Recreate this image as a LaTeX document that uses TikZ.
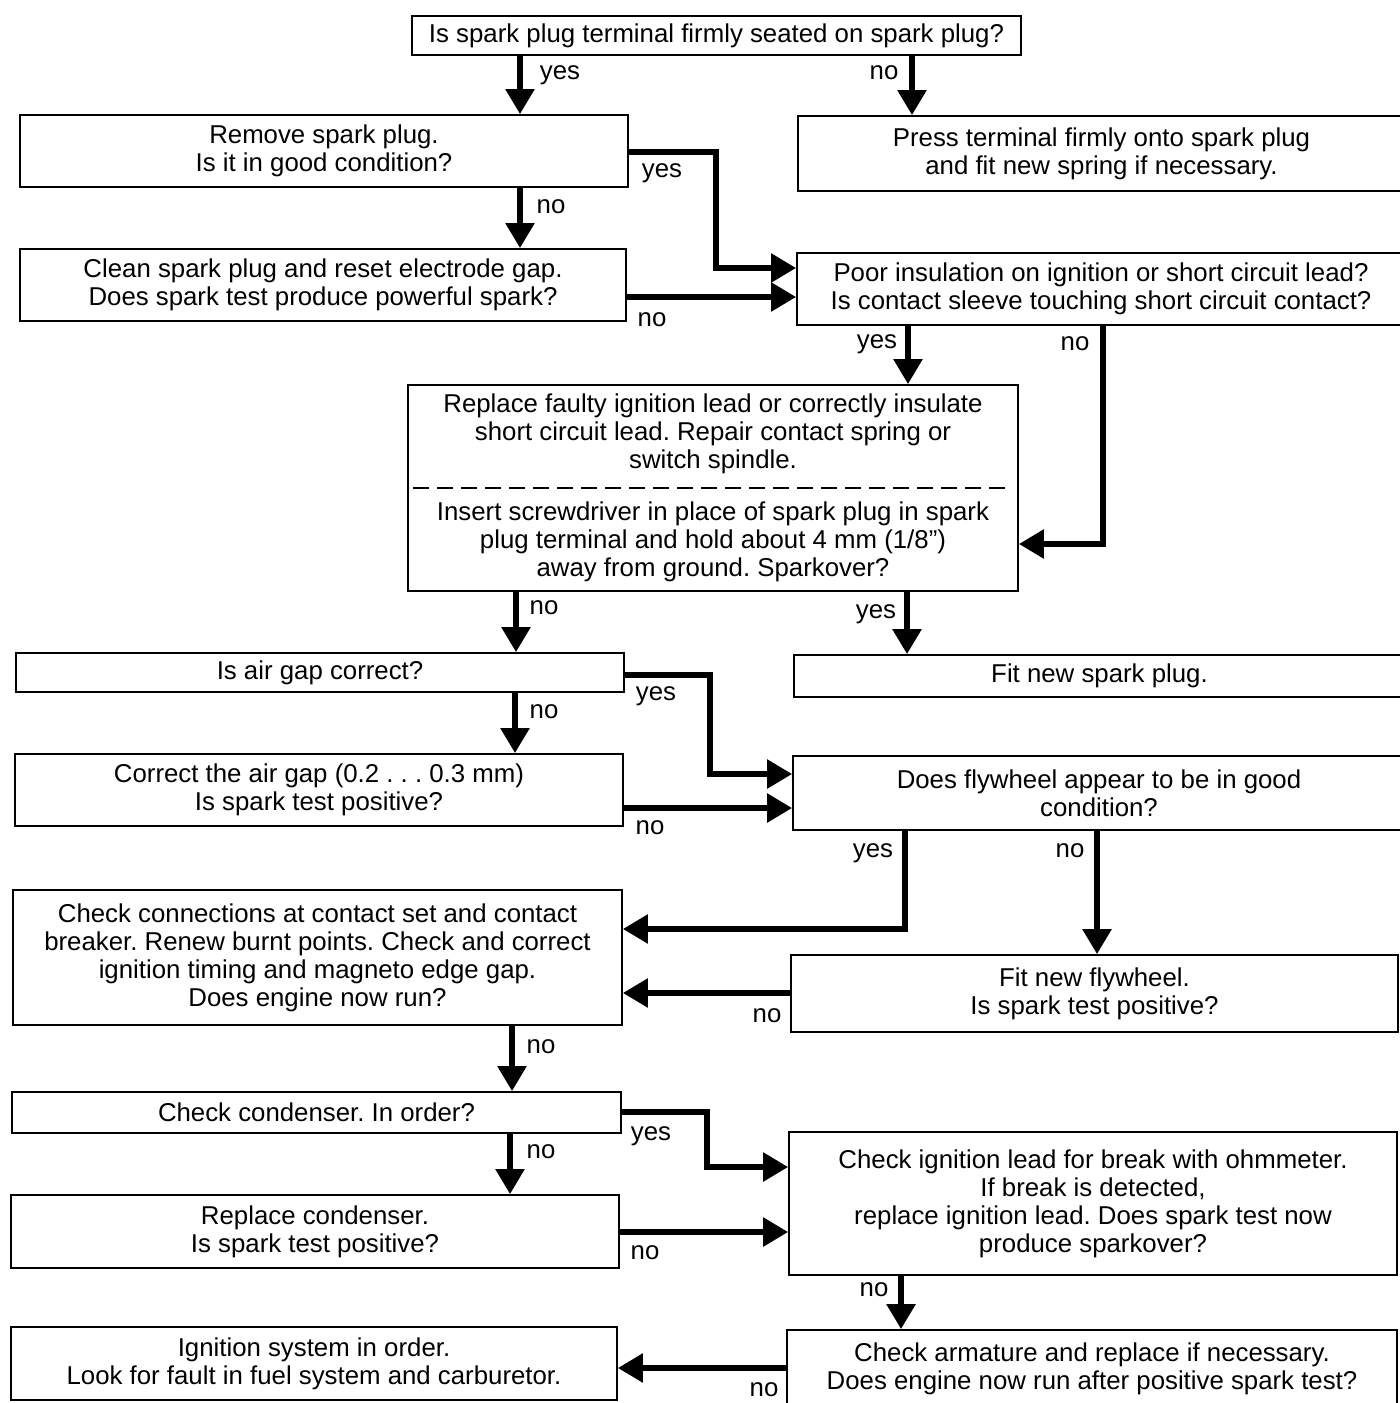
\documentclass[tikz,border=0pt]{standalone}
\usepackage{fontspec}
\setmainfont{Liberation Sans}
\usetikzlibrary{arrows.meta,fit}
\frenchspacing
\newcommand\fsz{\fontsize{12.9}{14}\selectfont}
\begin{document}
\begin{tikzpicture}[x=0.5pt,y=-0.5pt,
 box/.style={draw, line width=0.9pt, inner sep=0pt},
 txt/.style={align=center, font=\fsz, inner sep=0pt},
 lbl/.style={font=\fsz, inner sep=0pt, anchor=mid},
 arr/.style={line width=2.8pt, -{Triangle[length=12.5pt,width=14pt]}}]
\useasboundingbox (0,0) rectangle (1399,1403);
% boxes
\node[box, fit={(412,16) (1021,55)}, label={[txt]center:Is spark plug terminal firmly seated on spark plug?}] (q1) {};
\node[box, fit={(20,115) (628,187)}, label={[txt]center:{Remove spark plug.\\Is it in good condition?}}] (rem) {};
\node[box, fit={(798,116) (1405,191)}, label={[txt]center:{Press terminal firmly onto spark plug\\and fit new spring if necessary.}}] (press) {};
\node[box, fit={(20,249) (626,321)}, label={[txt]center:{Clean spark plug and reset electrode gap.\\Does spark test produce powerful spark?}}] (clean) {};
\node[box, fit={(797,253) (1405,325)}, label={[txt]center:{Poor insulation on ignition or short circuit lead?\\Is contact sleeve touching short circuit contact?}}] (poor) {};
\node[box, fit={(408,385) (1018,591)}] (rep) {};
\node[txt] (repA) at (713,434) {Replace faulty ignition lead or correctly insulate\\short circuit lead. Repair contact spring or\\switch spindle.};
\node[txt] (repB) at (713,542) {Insert screwdriver in place of spark plug in spark\\plug terminal and hold about 4 mm (1/8”)\\away from ground. Sparkover?};
\draw[line width=0.9pt, dash pattern=on 8pt off 4pt, shorten <=3pt, shorten >=3pt] (rep.west |- 0,488) -- (rep.east |- 0,488);
\node[box, fit={(16,653) (624,692)}, label={[txt]center:Is air gap correct?}] (air) {};
\node[box, fit={(794,655) (1405,697)}, label={[txt]center:Fit new spark plug.}] (fitplug) {};
\node[box, fit={(15,754) (623,826)}, label={[txt]center:{Correct the air gap (0.2 . . . 0.3 mm)\\Is spark test positive?}}] (corr) {};
\node[box, fit={(793,756) (1405,830)}, label={[txt]center:{Does flywheel appear to be in good\\condition?}}] (fly) {};
\node[box, fit={(13,890) (622,1025)}, label={[txt]center:{Check connections at contact set and contact\\breaker. Renew burnt points. Check and correct\\ignition timing and magneto edge gap.\\Does engine now run?}}] (chk) {};
\node[box, fit={(791,955) (1398,1032)}, label={[txt]center:{Fit new flywheel.\\Is spark test positive?}}] (newfly) {};
\node[box, fit={(12,1092) (621,1133)}, label={[txt]center:Check condenser. In order?}] (cond) {};
\node[box, fit={(789,1132) (1397,1275)}, label={[txt]center:{Check ignition lead for break with ohmmeter.\\If break is detected,\\replace ignition lead. Does spark test now\\produce sparkover?}}] (lead) {};
\node[box, fit={(11,1195) (619,1268)}, label={[txt]center:{Replace condenser.\\Is spark test positive?}}] (repcond) {};
\node[box, fit={(11,1327) (617,1400)}, label={[txt]center:{Ignition system in order.\\Look for fault in fuel system and carburetor.}}] (ign) {};
\node[box, fit={(787,1330) (1397,1408)}, label={[txt]center:{Check armature and replace if necessary.\\Does engine now run after positive spark test?}}] (arm) {};
% connectors
\draw[arr] (q1.south -| 520,0) -- (rem.north -| 520,0);
\draw[arr] (q1.south -| 912,0) -- (press.north -| 912,0);
\draw[arr] (rem.east |- 0,152) -- (716,152) -- (716,268) -- (poor.west |- 0,268);
\draw[arr] (rem.south -| 520,0) -- (clean.north -| 520,0);
\draw[arr] (clean.east |- 0,297) -- (poor.west |- 0,297);
\draw[arr] (poor.south -| 908,0) -- (rep.north -| 908,0);
\draw[arr] (poor.south -| 1103,0) -- (1103,544) -- (rep.east |- 0,544);
\draw[arr] (rep.south -| 516,0) -- (air.north -| 516,0);
\draw[arr] (rep.south -| 907,0) -- (fitplug.north -| 907,0);
\draw[arr] (air.east |- 0,675) -- (710,675) -- (710,774) -- (fly.west |- 0,774);
\draw[arr] (air.south -| 515,0) -- (corr.north -| 515,0);
\draw[arr] (corr.east |- 0,808) -- (fly.west |- 0,808);
\draw[arr] (fly.south -| 905,0) -- (905,929) -- (chk.east |- 0,929);
\draw[arr] (fly.south -| 1097,0) -- (newfly.north -| 1097,0);
\draw[arr] (newfly.west |- 0,993) -- (chk.east |- 0,993);
\draw[arr] (chk.south -| 512,0) -- (cond.north -| 512,0);
\draw[arr] (cond.east |- 0,1112) -- (707,1112) -- (707,1167) -- (lead.west |- 0,1167);
\draw[arr] (cond.south -| 510,0) -- (repcond.north -| 510,0);
\draw[arr] (repcond.east |- 0,1232) -- (lead.west |- 0,1232);
\draw[arr] (lead.south -| 901,0) -- (arm.north -| 901,0);
\draw[arr] (arm.west |- 0,1368) -- (ign.east |- 0,1368);
% labels
\node[lbl] (l1) at (560,74) {yes};
\node[lbl] (l2) at (884,74) {no};
\node[lbl] (l3) at (662,172) {yes};
\node[lbl] (l4) at (551,208) {no};
\node[lbl] (l5) at (652,321) {no};
\node[lbl] (l6) at (877,343) {yes};
\node[lbl] (l7) at (1075,345) {no};
\node[lbl] (l8) at (544,609) {no};
\node[lbl] (l9) at (876,613) {yes};
\node[lbl] (l10) at (656,695) {yes};
\node[lbl] (l11) at (544,713) {no};
\node[lbl] (l12) at (650,829) {no};
\node[lbl] (l13) at (873,852) {yes};
\node[lbl] (l14) at (1070,852) {no};
\node[lbl] (l15) at (767,1017) {no};
\node[lbl] (l16) at (541,1048) {no};
\node[lbl] (l17) at (651,1135) {yes};
\node[lbl] (l18) at (541,1153) {no};
\node[lbl] (l19) at (645,1254) {no};
\node[lbl] (l20) at (874,1291) {no};
\node[lbl] (l21) at (764,1391) {no};
\end{tikzpicture}
\end{document}
